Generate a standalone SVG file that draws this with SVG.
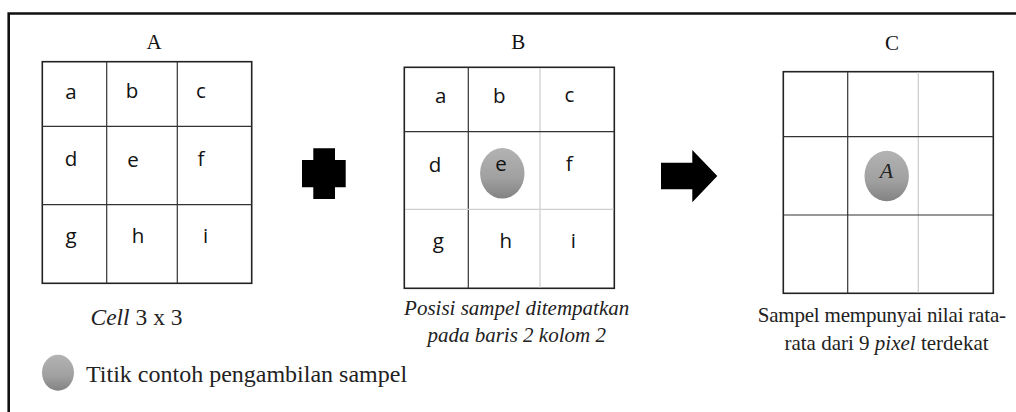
<svg xmlns="http://www.w3.org/2000/svg" width="1016" height="412" viewBox="0 0 1016 412">
  <style>
    .frame { fill: none; stroke: #111; stroke-width: 2.6; }
    .grid-out { fill: #fff; stroke: #222; stroke-width: 1.6; }
    .ln { stroke: #333; stroke-width: 1.2; }
    .ln-lt { stroke: #cfcfcf; stroke-width: 1.3; }
    .cell { font-family: "Open Sans", "Noto Sans", sans-serif; font-size: 20.5px; fill: #111; text-anchor: middle; }
    .title { font-family: "Liberation Serif", serif; font-size: 21px; fill: #111; text-anchor: middle; }
    .cap { font-family: "Liberation Serif", serif; fill: #222; }
    .it { font-style: italic; }
    .dot { fill: url(#dotFill); }
    .shape { fill: #000; }
  </style>
  <defs>
    <linearGradient id="dotFill" x1="0" y1="0" x2="0" y2="1">
      <stop offset="0" stop-color="#b3b3b3"/>
      <stop offset="0.6" stop-color="#a0a0a0"/>
      <stop offset="1" stop-color="#828282"/>
    </linearGradient>
  </defs>

  <rect width="1016" height="412" fill="#fff"/>

  <!-- outer frame: top and left edges -->
  <path class="frame" d="M8.7 412 V13.5 H1016"/>

  <!-- panel A: plain 3x3 cell -->
  <g id="panel-a">
    <text class="title" x="154" y="48.5">A</text>
    <rect class="grid-out" x="42.3" y="61.7" width="209.4" height="221.6"/>
    <line class="ln" x1="106.7" y1="61.7" x2="106.7" y2="283.3"/>
    <line class="ln" x1="177.3" y1="61.7" x2="177.3" y2="283.3"/>
    <line class="ln" x1="42.3" y1="126.3" x2="251.7" y2="126.3"/>
    <line class="ln" x1="42.3" y1="204.7" x2="251.7" y2="204.7"/>
    <text class="cell" x="71" y="99">a</text>
    <text class="cell" x="132" y="97.5">b</text>
    <text class="cell" x="201" y="98">c</text>
    <text class="cell" x="71" y="166">d</text>
    <text class="cell" x="133" y="167">e</text>
    <text class="cell" x="201" y="166">f</text>
    <text class="cell" x="71" y="243">g</text>
    <text class="cell" x="138" y="243">h</text>
    <text class="cell" x="205.7" y="243">i</text>
    <text class="cap" x="136.5" y="325" font-size="23.5" text-anchor="middle"><tspan class="it">Cell</tspan> 3 x 3</text>
  </g>

  <!-- plus sign -->
  <g id="plus">
    <path class="shape" d="M313.3 148.3 H335 V160 H345.7 V187.3 H335 V199 H313.3 V187.3 H302 V160 H313.3 Z"/>
  </g>

  <!-- panel B: sample placed at row 2, column 2 -->
  <g id="panel-b">
    <text class="title" x="518.3" y="48.5">B</text>
    <rect class="grid-out" x="404.3" y="67.3" width="210" height="221"/>
    <line class="ln" x1="468.3" y1="67.3" x2="468.3" y2="288.3"/>
    <line class="ln-lt" x1="540" y1="68" x2="540" y2="287.6"/>
    <line class="ln" x1="404.3" y1="131.7" x2="614.3" y2="131.7"/>
    <line class="ln-lt" x1="405" y1="209.3" x2="613.6" y2="209.3"/>
    <ellipse class="dot" cx="502.3" cy="173.3" rx="22.2" ry="25.3"/>
    <text class="cell" x="440.7" y="103.3">a</text>
    <text class="cell" x="499.3" y="103">b</text>
    <text class="cell" x="569.3" y="101.7">c</text>
    <text class="cell" x="435" y="171.7">d</text>
    <text class="cell" x="501" y="171">e</text>
    <text class="cell" x="569.3" y="171">f</text>
    <text class="cell" x="438.3" y="248">g</text>
    <text class="cell" x="505.7" y="248">h</text>
    <text class="cell" x="573.3" y="248">i</text>
    <text class="cap it" x="516.7" y="315" font-size="21" text-anchor="middle">Posisi sampel ditempatkan</text>
    <text class="cap it" x="516.7" y="341.7" font-size="21" text-anchor="middle">pada baris 2 kolom 2</text>
  </g>

  <!-- transition arrow -->
  <g id="connectors">
    <path class="shape" d="M661 162.7 H692.3 V150 L717.3 176 L692.3 202.3 V189.3 H661 Z"/>
  </g>

  <!-- panel C: averaged sample value -->
  <g id="panel-c">
    <text class="title" x="892" y="50">C</text>
    <rect class="grid-out" x="783.3" y="71.7" width="210" height="221.6"/>
    <line class="ln" x1="847.7" y1="71.7" x2="847.7" y2="293.3"/>
    <line class="ln-lt" x1="918.3" y1="72.4" x2="918.3" y2="292.6"/>
    <line class="ln" x1="783.3" y1="136.7" x2="993.3" y2="136.7"/>
    <line class="ln" x1="783.3" y1="215" x2="993.3" y2="215"/>
    <ellipse class="dot" cx="886.7" cy="176" rx="22.2" ry="25.3"/>
    <text class="cap it" x="886.5" y="177.7" font-size="22" text-anchor="middle" fill="#111">A</text>
    <text class="cap" x="757.7" y="321.7" font-size="21" textLength="248.3" lengthAdjust="spacing">Sampel mempunyai nilai rata-</text>
    <text class="cap" x="886.5" y="350" font-size="21" text-anchor="middle">rata dari 9 <tspan class="it">pixel</tspan> terdekat</text>
  </g>

  <!-- legend -->
  <g id="legend">
    <ellipse class="dot" cx="58" cy="372.7" rx="16" ry="18"/>
    <text class="cap" x="86" y="381.7" font-size="24" fill="#111">Titik contoh pengambilan sampel</text>
  </g>
</svg>
